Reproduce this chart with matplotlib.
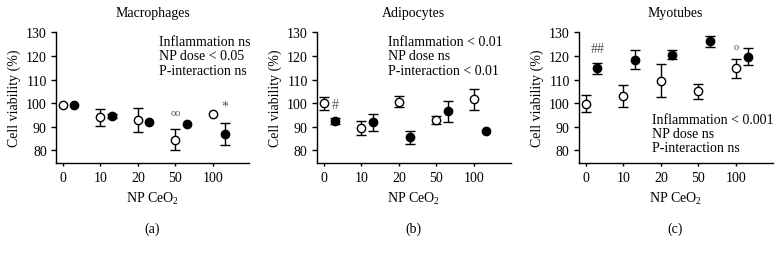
import matplotlib
matplotlib.use("Agg")
import matplotlib.pyplot as plt
import numpy as np

plt.rcParams['font.family'] = ['Liberation Serif', 'DejaVu Serif']
plt.rcParams['mathtext.fontset'] = 'custom'
plt.rcParams['mathtext.rm'] = 'Liberation Serif'
plt.rcParams['mathtext.it'] = 'Liberation Serif:italic'

doses = ["0", "10", "20", "50", "100"]
panels = ["Macrophages", "Adipocytes", "Myotubes"]
letters = ["(a)", "(b)", "(c)"]

# open circles (control), filled circles (inflammation)
open_a = [99.1, 94.0, 92.8, 84.5, 95.6]
open_a_err = [0.0, 3.7, 5.0, 4.4, 0.0]
fill_a = [99.1, 94.6, 92.1, 91.1, 87.0]
fill_a_err = [0.0, 1.0, 0.0, 0.0, 4.7]

open_b = [99.9, 89.5, 100.6, 92.7, 101.6]
open_b_err = [2.6, 2.8, 2.3, 1.7, 4.4]
fill_b = [92.6, 91.9, 85.5, 96.5, 88.4]
fill_b_err = [1.2, 3.5, 2.8, 4.4, 0.0]

open_c = [99.8, 103.2, 109.6, 105.0, 114.7]
open_c_err = [3.7, 4.6, 7.0, 3.3, 4.1]
fill_c = [114.8, 118.4, 120.5, 126.2, 119.7]
fill_c_err = [2.3, 3.9, 2.0, 2.4, 3.6]

stats_a = ["Inflammation ns", "NP dose < 0.05", "P-interaction ns"]
stats_b = ["Inflammation < 0.01", "NP dose ns", "P-interaction < 0.01"]
stats_c = ["Inflammation < 0.001", "NP dose ns", "P-interaction ns"]

# significance marks: (panel, group, dose index, y value, text)
marks = [
    (0, "open", 3, 95.9, "oo"),
    (0, "fill", 4, 99.0, "*"),
    (1, "fill", 0, 99.6, "#"),
    (2, "fill", 0, 123.0, "##"),
    (2, "open", 4, 124.0, "o"),
]

data = [
    (open_a, open_a_err, fill_a, fill_a_err, stats_a, 0.531, [125.9, 120.0, 113.9]),
    (open_b, open_b_err, fill_b, fill_b_err, stats_b, 0.37, [125.9, 120.0, 113.9]),
    (open_c, open_c_err, fill_c, fill_c_err, stats_c, 0.379, [93.0, 87.0, 81.1]),
]

fig = plt.figure(figsize=(7.84, 2.55), dpi=100)
lefts = [55.5 / 784, 316.5 / 784, 578.5 / 784]
width = 194 / 784
bottom = 1 - 164 / 255
height = (164 - 33.3) / 255

off = 0.31
fs = 10


def draw(ax, xs, ys, es, face):
    xs = np.asarray(xs, float)
    ys = np.asarray(ys, float)
    es = np.asarray(es, float)
    m = es > 0
    if m.any():
        ax.errorbar(xs[m], ys[m], yerr=es[m], fmt='none', ecolor='black', elinewidth=1.0,
                    capsize=3.8, capthick=1.0, clip_on=False, zorder=2)
    ax.plot(xs, ys, 'o', ms=6.0, mfc=face, mec='black', mew=1.0, clip_on=False, zorder=3)


for i, (o, oe, f, fe, stats, tx, ty) in enumerate(data):
    ax = fig.add_axes([lefts[i], bottom, width, height])
    xs = list(range(len(doses)))
    xf = [x + off for x in xs]
    draw(ax, xs, o, oe, 'white')
    draw(ax, xf, f, fe, 'black')
    ax.set_xlim(-0.19, 4.97)
    ax.set_ylim(74.7, 130)
    ax.set_xticks(xs)
    ax.set_xticklabels(doses)
    ax.set_yticks([80, 90, 100, 110, 120, 130])
    ax.spines['top'].set_visible(False)
    ax.spines['right'].set_visible(False)
    for s in ['left', 'bottom']:
        ax.spines[s].set_linewidth(1.0)
    ax.tick_params(axis='y', direction='out', length=3.8, width=1.0, labelsize=fs, pad=2.5)
    ax.tick_params(axis='x', direction='out', length=2.5, width=1.0, labelsize=fs, pad=3.5)
    ax.text(0.5, 1.148, panels[i], transform=ax.transAxes, ha='center', va='center', fontsize=fs)
    ax.text(0.5, -0.268, r'NP CeO$_\mathregular{2}$', transform=ax.transAxes, ha='center', va='center', fontsize=fs)
    ax.text(0.5, -0.497, letters[i], transform=ax.transAxes, ha='center', va='center', fontsize=fs)
    ax.text(-0.211, 0.5, 'Cell viability (%)', transform=ax.transAxes, ha='center', va='center',
            rotation=90, fontsize=fs)
    for line, yv in zip(stats, ty):
        ax.text(tx, yv, line, transform=ax.get_yaxis_transform(), ha='left', va='center', fontsize=fs)
    for (p, grp, di, yv, t) in marks:
        if p != i:
            continue
        xv = di + (off if grp == "fill" else 0)
        size = 7.5 if t in ("oo", "o") else 10
        ax.text(xv, yv, t, ha='center', va='center', fontsize=size, color='#555555')

fig.savefig("out.png", dpi=100)
